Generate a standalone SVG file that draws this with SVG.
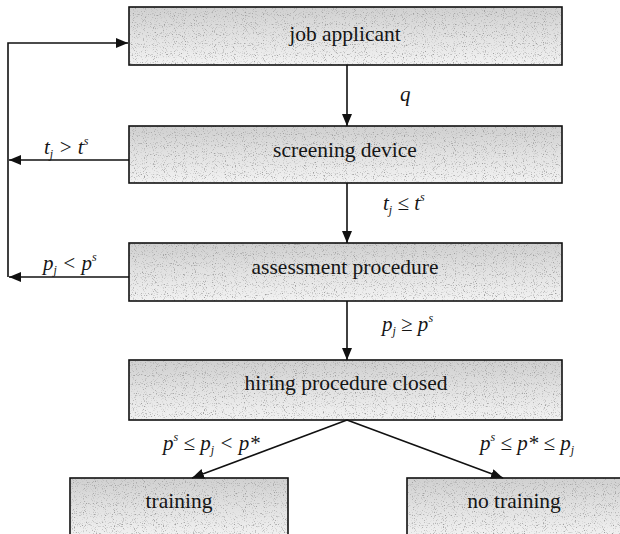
<svg xmlns="http://www.w3.org/2000/svg" width="620" height="534" viewBox="0 0 620 534">
<style>
.box{stroke:#111;stroke-width:1.6;fill:none}
.lbl{font-family:'Liberation Serif','Tinos','Times New Roman','Times','Noto Serif','DejaVu Serif',serif;font-size:21.5px;fill:#151515;text-anchor:middle}
.m{font-family:'Liberation Serif','Tinos','Times New Roman','Times','Noto Serif','DejaVu Serif',serif;font-style:italic;font-size:21px;fill:#151515}
.sm{font-size:12px}
.ln{stroke:#111;stroke-width:1.6;fill:none}
</style>
<defs>
<linearGradient id="shade" x1="0" y1="0" x2="0" y2="1">
<stop offset="0" stop-color="#d0d0d0"/>
<stop offset="0.45" stop-color="#e0e0e0"/>
<stop offset="1" stop-color="#f2f2f2"/>
</linearGradient>
<filter id="grain" x="0" y="0" width="1" height="1" filterUnits="objectBoundingBox">
<feTurbulence type="fractalNoise" baseFrequency="0.9" numOctaves="1" seed="7" result="t"/>
<feColorMatrix in="t" type="matrix" values="0 0 0 0 0.35  0 0 0 0 0.35  0 0 0 0 0.35  5 0 0 0 -2.8" result="d"/>
<feMerge><feMergeNode in="SourceGraphic"/><feMergeNode in="d"/></feMerge>
</filter>
<marker id="ah" viewBox="0 0 12 10" refX="12" refY="5" markerWidth="12" markerHeight="10" markerUnits="userSpaceOnUse" orient="auto">
<path d="M0,0 L12,5 L0,10 Z" fill="#111"/>
</marker>
</defs>

<g id="node-job-applicant">
<rect x="129" y="7" width="433" height="58" fill="url(#shade)" filter="url(#grain)"/>
<rect class="box" x="129" y="7" width="433" height="58"/>
<text class="lbl" x="345" y="41">job applicant</text>
</g>
<g id="node-screening-device">
<rect x="129" y="126" width="433" height="57" fill="url(#shade)" filter="url(#grain)"/>
<rect class="box" x="129" y="126" width="433" height="57"/>
<text class="lbl" x="345" y="157">screening device</text>
</g>
<g id="node-assessment-procedure">
<rect x="129" y="243" width="433" height="58" fill="url(#shade)" filter="url(#grain)"/>
<rect class="box" x="129" y="243" width="433" height="58"/>
<text class="lbl" x="345" y="274">assessment procedure</text>
</g>
<g id="node-hiring-procedure-closed">
<rect x="129" y="360" width="433" height="60" fill="url(#shade)" filter="url(#grain)"/>
<rect class="box" x="129" y="360" width="433" height="60"/>
<text class="lbl" x="346" y="390">hiring procedure closed</text>
</g>
<g id="node-training">
<rect x="70" y="478" width="218" height="60" fill="url(#shade)" filter="url(#grain)"/>
<rect class="box" x="70" y="478" width="218" height="60"/>
<text class="lbl" x="179" y="508">training</text>
</g>
<g id="node-no-training">
<rect x="407" y="478" width="220" height="60" fill="url(#shade)" filter="url(#grain)"/>
<rect class="box" x="407" y="478" width="220" height="60"/>
<text class="lbl" x="514" y="508">no training</text>
</g>

<g id="connectors">
<line class="ln" x1="347" y1="65" x2="347" y2="126" marker-end="url(#ah)"/>
<line class="ln" x1="347" y1="183" x2="347" y2="243" marker-end="url(#ah)"/>
<line class="ln" x1="347" y1="301" x2="347" y2="360" marker-end="url(#ah)"/>
<line class="ln" x1="129" y1="160" x2="9" y2="160" marker-end="url(#ah)"/>
<line class="ln" x1="129" y1="277" x2="9" y2="277" marker-end="url(#ah)"/>
<polyline class="ln" points="8,277 8,43 128,43" marker-end="url(#ah)"/>
<line class="ln" x1="347" y1="420" x2="192" y2="478" marker-end="url(#ah)"/>
<line class="ln" x1="347" y1="420" x2="503" y2="478" marker-end="url(#ah)"/>
</g>

<g id="labels">
<text class="m" x="400" y="101">q</text>
<text class="m" x="44" y="154">t<tspan class="sm" dy="4">j</tspan><tspan dy="-4"> &gt; t</tspan><tspan class="sm" dy="-9">s</tspan></text>
<text class="m" x="383" y="210">t<tspan class="sm" dy="4">j</tspan><tspan dy="-4"> ≤ t</tspan><tspan class="sm" dy="-9">s</tspan></text>
<text class="m" x="43" y="270">p<tspan class="sm" dy="4">j</tspan><tspan dy="-4"> &lt; p</tspan><tspan class="sm" dy="-9">s</tspan></text>
<text class="m" x="382" y="331">p<tspan class="sm" dy="4">j</tspan><tspan dy="-4"> ≥ p</tspan><tspan class="sm" dy="-9">s</tspan></text>
<text class="m" x="163" y="450">p<tspan class="sm" dy="-9">s</tspan><tspan dy="9"> ≤ p</tspan><tspan class="sm" dy="4">j</tspan><tspan dy="-4"> &lt; p*</tspan></text>
<text class="m" x="480" y="450">p<tspan class="sm" dy="-9">s</tspan><tspan dy="9"> ≤ p* ≤ p</tspan><tspan class="sm" dy="4">j</tspan></text>
</g>
</svg>
